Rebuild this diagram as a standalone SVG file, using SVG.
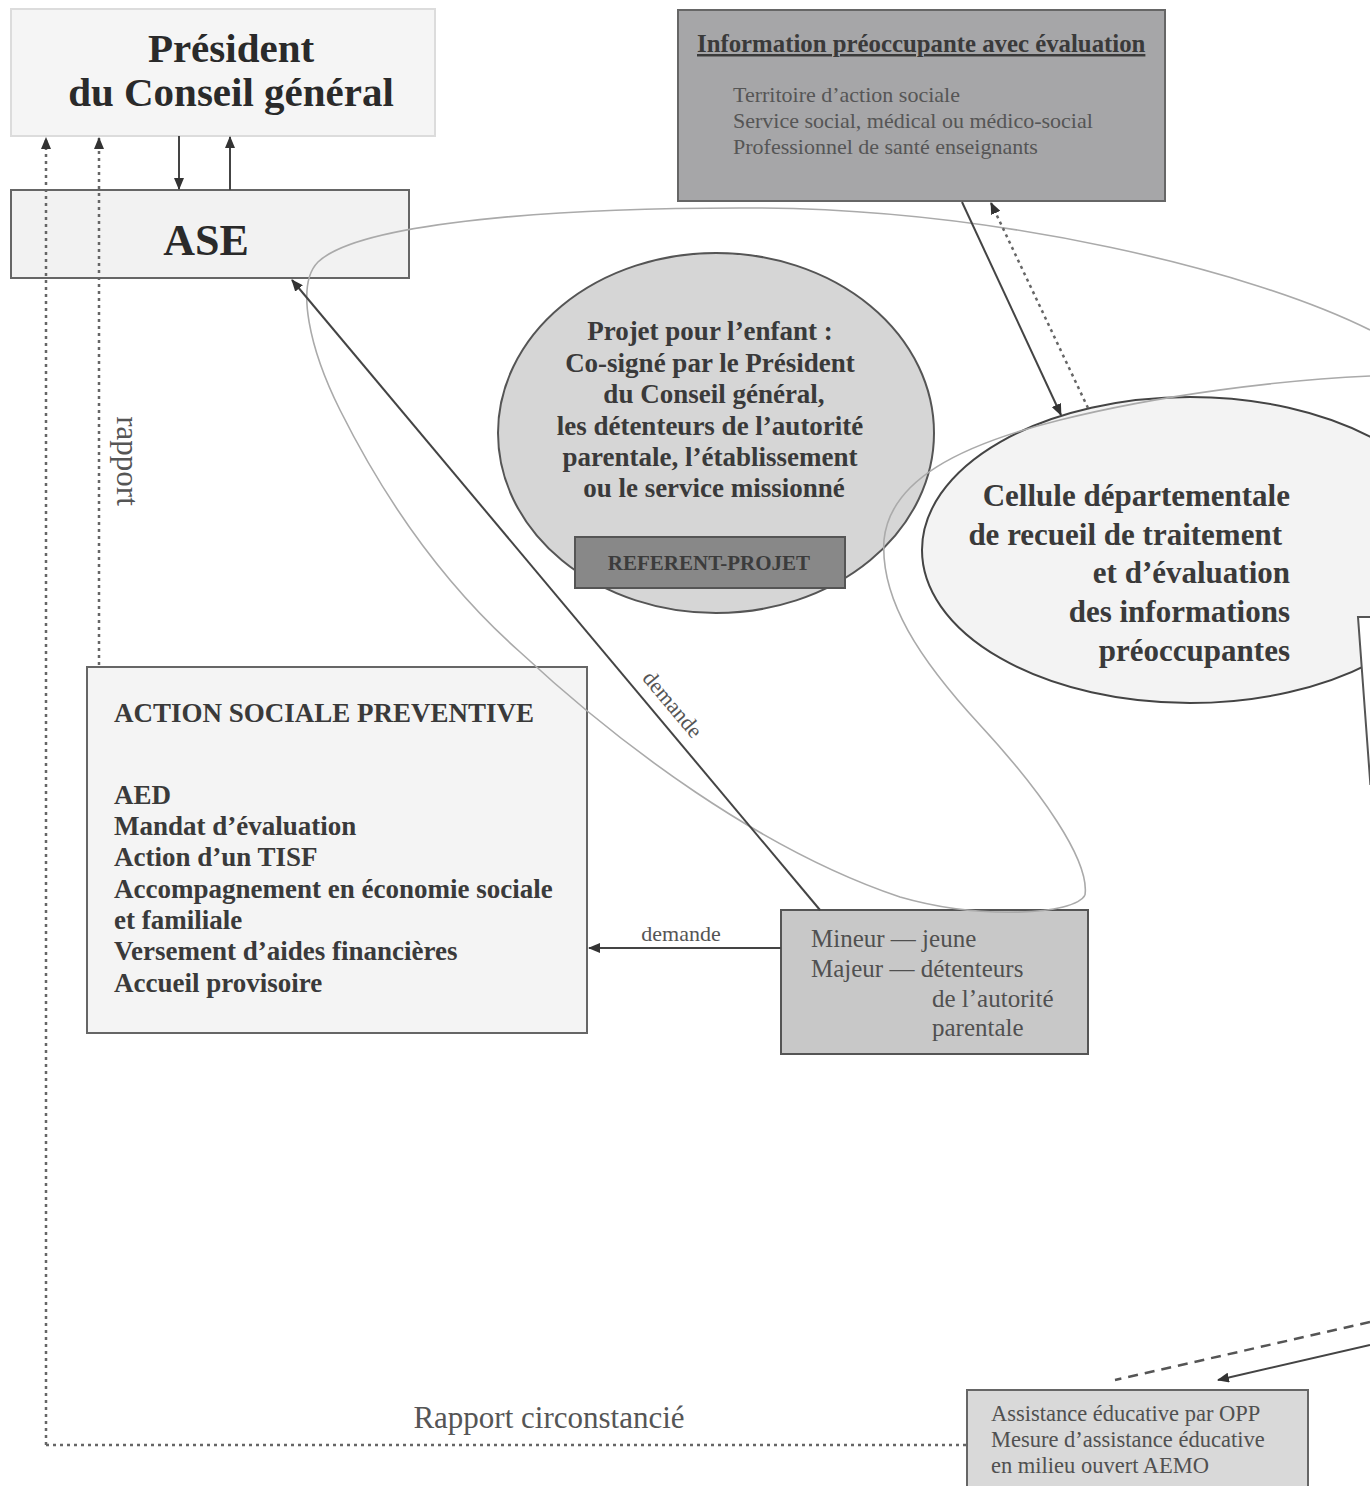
<svg xmlns="http://www.w3.org/2000/svg" width="1370" height="1486" viewBox="0 0 1370 1486">
<style>
text{font-family:"Liberation Serif","Times New Roman",serif}
.b{font-weight:bold}
.box{stroke:#666;stroke-width:2}
.c{stroke:#444;stroke-width:2;fill:none}
.dot{stroke:#666;stroke-width:2.5;fill:none;stroke-dasharray:3 4}
.ring{stroke:#aaa;stroke-width:1.6;fill:none}
.t1{fill:#2a2a2a}
.t2{fill:#3a3a3a}
.t3{fill:#555}
</style>
<defs>
<marker id="ah" markerWidth="12" markerHeight="10" refX="11" refY="5" orient="auto" markerUnits="userSpaceOnUse">
<path d="M0,0 L12,5 L0,10 z" fill="#333"/>
</marker>
</defs>
<rect width="1370" height="1486" fill="#fff"/>

<g id="n-president">
<rect x="11" y="9" width="424" height="127" fill="#f5f5f5" stroke="#dcdcdc" stroke-width="2"/>
<text x="231" y="62" font-size="41" text-anchor="middle" class="b t1">Président</text>
<text x="231" y="106" font-size="41" text-anchor="middle" class="b t1">du Conseil général</text>
</g>

<g id="n-ase">
<rect x="11" y="190" width="398" height="88" fill="#f2f2f2" class="box"/>
<text x="206" y="255" font-size="44" text-anchor="middle" class="b t1">ASE</text>
</g>

<g id="n-info">
<rect x="678" y="10" width="487" height="191" fill="#a6a6a8" class="box"/>
<text x="697" y="52" font-size="24.8" class="b t2" text-decoration="underline">Information préoccupante avec évaluation</text>
<text x="733" y="102" font-size="22" class="t3" fill="#505050">Territoire d’action sociale</text>
<text x="733" y="128" font-size="22" class="t3" fill="#505050">Service social, médical ou médico-social</text>
<text x="733" y="154" font-size="22" class="t3" fill="#505050">Professionnel de santé enseignants</text>
</g>

<g id="n-projet">
<ellipse cx="716" cy="433" rx="218" ry="180" fill="#d6d6d6" stroke="#555" stroke-width="2"/>
<g font-size="27" text-anchor="middle" class="b t2">
<text x="710" y="340">Projet pour l’enfant :</text>
<text x="710" y="372">Co-signé par le Président</text>
<text x="714" y="403">du Conseil général,</text>
<text x="710" y="435">les détenteurs de l’autorité</text>
<text x="710" y="466">parentale, l’établissement</text>
<text x="714" y="497">ou le service missionné</text>
</g>
</g>

<g id="n-referent">
<rect x="575" y="537" width="270" height="51" fill="#888" stroke="#555" stroke-width="2"/>
<text x="709" y="570" font-size="21" text-anchor="middle" class="b" fill="#3c3c3c">REFERENT-PROJET</text>
</g>

<g id="n-cellule">
<ellipse cx="1190" cy="550" rx="268" ry="153" fill="#f3f3f3" stroke="#444" stroke-width="2"/>
<g font-size="31" text-anchor="end" class="b t2">
<text x="1290" y="506">Cellule départementale</text>
<text x="1282" y="545">de recueil de traitement</text>
<text x="1290" y="583">et d’évaluation</text>
<text x="1290" y="622">des informations</text>
<text x="1290" y="661">préoccupantes</text>
</g>
</g>

<g id="n-right-edge">
<polygon points="1358,617 1375,617 1375,790 1370.4,785" fill="#fff"/>
<path d="M1375,617 L1358,617 L1370.4,785" fill="none" stroke="#555" stroke-width="2"/>
</g>

<g id="n-action">
<rect x="87" y="667" width="500" height="366" fill="#f4f4f4" class="box"/>
<g font-size="27" class="b t2">
<text x="114" y="722">ACTION SOCIALE PREVENTIVE</text>
<text x="114" y="804">AED</text>
<text x="114" y="835">Mandat d’évaluation</text>
<text x="114" y="866">Action d’un TISF</text>
<text x="114" y="898">Accompagnement en économie sociale</text>
<text x="114" y="929">et familiale</text>
<text x="114" y="960">Versement d’aides financières</text>
<text x="114" y="992">Accueil provisoire</text>
</g>
</g>

<g id="n-mineur">
<rect x="781" y="910" width="307" height="144" fill="#c8c8c8" stroke="#555" stroke-width="2"/>
<g font-size="25" fill="#505050">
<text x="811" y="947">Mineur — jeune</text>
<text x="811" y="977">Majeur — détenteurs</text>
<text x="932" y="1007">de l’autorité</text>
<text x="932" y="1036">parentale</text>
</g>
</g>

<g id="n-opp">
<rect x="967" y="1390" width="341" height="110" fill="#d9d9d9" class="box"/>
<g font-size="22.5" fill="#505050">
<text x="991" y="1421">Assistance éducative par OPP</text>
<text x="991" y="1447">Mesure d’assistance éducative</text>
<text x="991" y="1473">en milieu ouvert AEMO</text>
</g>
</g>

<g id="rings">
<path class="ring" d="M1370,330 C1250,270 1000,210 760,208 C560,207 360,222 318,262 C295,285 310,350 340,410 C390,510 450,590 520,652 C620,745 760,850 900,897 C980,920 1075,915 1085,895"/>
<path class="ring" d="M1085,895 C1090,860 1040,790 980,725 C920,660 880,600 884,540 C890,480 960,445 1060,420 C1160,395 1280,380 1370,376"/>
</g>

<g id="connectors">
<line class="c" x1="179" y1="136" x2="179" y2="189" marker-end="url(#ah)"/>
<line class="c" x1="230" y1="190" x2="230" y2="137" marker-end="url(#ah)"/>
<path class="dot" d="M46,1445 L46,138" marker-end="url(#ah)"/>
<path class="dot" d="M99,665 L99,138" marker-end="url(#ah)"/>
<path class="dot" d="M46,1445 L967,1445"/>
<line class="c" x1="962" y1="202" x2="1061" y2="415" marker-end="url(#ah)"/>
<path class="dot" d="M1088,408 L991,203" marker-end="url(#ah)"/>
<line class="c" x1="820" y1="910" x2="292" y2="280" marker-end="url(#ah)"/>
<line class="c" x1="781" y1="948" x2="589" y2="948" marker-end="url(#ah)"/>
<path d="M1370,1322 L1115,1380" stroke="#555" stroke-width="2.5" fill="none" stroke-dasharray="10 7"/>
<line class="c" x1="1370" y1="1345" x2="1218" y2="1380" marker-end="url(#ah)"/>
</g>

<g id="labels" fill="#555">
<text x="681" y="941" font-size="22" text-anchor="middle">demande</text>
<text transform="translate(667,709) rotate(50)" font-size="22" text-anchor="middle">demande</text>
<text transform="translate(117,461) rotate(90)" font-size="31" text-anchor="middle">rapport</text>
<text x="549" y="1428" font-size="31" text-anchor="middle">Rapport circonstancié</text>
</g>
</svg>
